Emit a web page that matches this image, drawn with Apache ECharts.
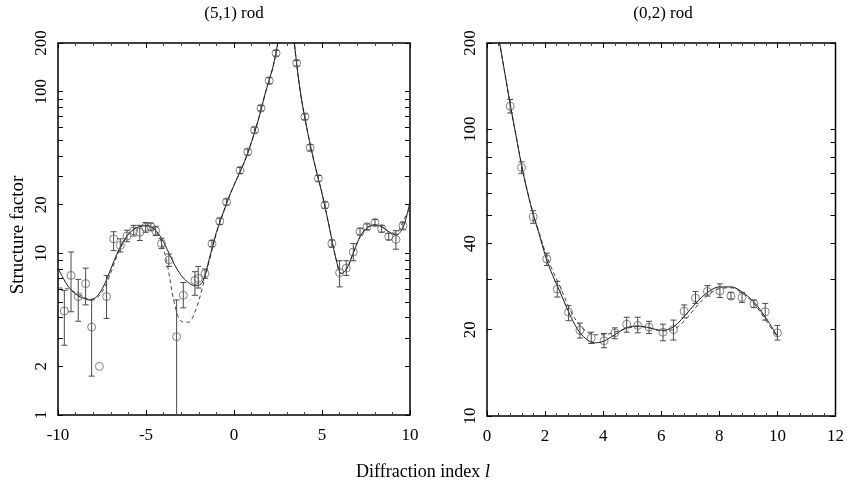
<!DOCTYPE html>
<html>
<head>
<meta charset="utf-8">
<script src="https://cdn.jsdelivr.net/npm/echarts@6/dist/echarts.min.js"></script>
<style>html,body{margin:0;padding:0;background:#fff}#c{width:847px;height:492px}</style>
</head>
<body>
<div id="c"></div>
<script>
// ---------- (5,1) rod : measured points ----------
const leftPtX = [-9.64,-9.26,-8.85,-8.43,-8.09,-7.65,-7.24,-6.84,-6.46,-6.08,-5.70,-5.35,-5.02,-4.72,-4.45,-4.12,-3.70,-3.26,-2.88,-2.22,-2.03,-1.65,-1.25,-0.81,-0.42,0.34,0.78,1.17,1.53,2.00,2.39,3.56,4.03,4.33,4.79,5.17,5.56,6.00,6.38,6.78,7.16,7.56,8.01,8.39,8.79,9.20,9.60];
const leftPtY = [4.4,7.3,5.4,6.5,3.5,2.0,5.4,12.3,11.2,12.8,13.8,13.5,14.5,14.6,13.8,11.5,9.1,3.05,5.5,6.8,7.0,7.5,11.5,15.8,20.8,32.6,42.4,57.9,79,117,173,150,70,45,29.1,19.9,11.5,7.6,8.1,10.2,13.6,14.6,15.5,14.2,12.7,12.2,14.8];
const leftPtLo = [2.7,4.35,3.8,4.8,1.74,2.0,3.96,10.4,10.2,11.8,12.8,12.0,13.5,13.8,12.9,10.7,8.3,1,4.6,5.5,6.1,7.0,11.0,15.1,19.9,31.2,40.6,55.5,76,112,166,144,67,43,27.9,19.0,10.9,6.2,7.3,9.0,13.0,14.0,14.8,13.5,12.1,10.6,14.0];
const leftPtHi = [5.9,10.2,6.9,8.1,5.15,2.0,7.3,13.6,12.3,13.9,14.9,14.9,15.5,15.4,14.7,12.4,9.9,5.15,6.6,7.7,8.3,8.0,12.0,16.5,21.7,34.0,44.2,60.3,82,122,180,156,73,47,30.3,20.8,12.1,9.0,9.0,11.5,14.3,15.2,16.2,14.9,13.3,13.8,15.6];
// ---------- (5,1) rod : fit curves ----------
const leftCurveX = [-10,-9.7,-9.4,-9.0,-8.6,-8.2,-7.8,-7.4,-7.0,-6.6,-6.2,-5.8,-5.4,-5.0,-4.6,-4.2,-3.8,-3.4,-3.0,-2.6,-2.2,-1.8,-1.4,-1.0,-0.6,-0.2,0.2,0.6,1.0,1.4,1.8,2.2,2.5,2.75,3.0,3.25,3.5,3.8,4.2,4.6,5.0,5.4,5.8,6.1,6.4,6.8,7.2,7.6,8.0,8.4,8.8,9.2,9.6,10];
const leftSolidY = [8.1,7.0,6.2,5.6,5.3,5.15,5.4,6.3,8.0,10.2,12.3,13.8,14.6,14.8,14.3,12.8,10.6,8.6,7.3,6.6,6.3,6.6,9.3,13.5,18.0,23.5,29.5,37,49,68,100,140,205,330,2000,330,170,95,55,35,23.5,14.8,9.2,7.5,8.0,10.2,12.9,14.5,15.0,14.6,13.6,13.0,14.4,21];
const leftDashY = [6.1,6.1,6.0,5.7,5.4,5.2,5.3,6.0,7.6,9.9,12.1,13.8,14.7,14.9,14.4,12.4,8.6,5.0,3.8,3.75,4.4,6.1,9.0,13.3,18.0,23.5,29.5,37,49,68,100,140,205,330,2000,330,170,95,55,35,23.5,14.8,9.2,7.5,8.0,10.2,12.9,14.5,15.0,14.6,13.6,13.3,15.8,19];
// ---------- (0,2) rod : measured points ----------
const rightPtX = [0.80,1.19,1.59,2.06,2.42,2.81,3.20,3.59,4.03,4.40,4.81,5.19,5.58,6.06,6.42,6.79,7.18,7.59,8.02,8.40,8.78,9.19,9.58,10.00];
const rightPtY = [120.5,73.5,49.5,35.3,27.7,23.0,19.9,18.7,18.3,19.5,20.9,20.7,20.4,19.6,20.0,23.2,25.8,27.2,27.3,26.2,25.9,24.6,23.1,19.5];
const rightPtLo = [114,70,47,33.5,26,21.5,18.7,17.9,17.3,18.6,19.6,19.5,19.4,18.3,18.4,22.0,24.7,26.2,25.9,25.6,24.9,23.9,21.6,18.4];
const rightPtHi = [127,77,52,37,29.5,24.3,21.1,19.6,19.4,20.3,22.1,22.1,21.4,20.9,21.6,24.4,27.2,28.5,28.9,27.0,27.0,25.4,24.7,20.7];
// ---------- (0,2) rod : fit curves ----------
const rightCurveX = [0.3,0.6,0.8,1.0,1.2,1.4,1.6,1.8,2.0,2.2,2.5,2.8,3.1,3.4,3.7,4.0,4.4,4.8,5.2,5.6,6.0,6.4,6.8,7.2,7.6,8.0,8.4,8.8,9.2,9.6,10.0];
const rightSolidY = [240,160,122,95,74,60,50,43,36.5,32,27.3,23.2,20.2,18.6,18.0,18.2,19.2,20.3,20.6,20.3,19.9,20.4,22.3,24.8,27.0,28.2,28.2,27.0,24.9,22.0,19.0];
const rightDashY = [240,160,122,95,74.5,60.5,50.5,43.5,37.5,33.2,28.5,24.2,21.3,19.8,19.2,19.2,19.6,20.2,20.5,20.3,19.8,20.0,21.5,24.0,26.4,27.8,28.0,26.8,24.6,21.6,18.8];
// ---------- ticks ----------
const leftXTicks = {min: -10, max: 10, interval: 5};
const rightXTicks = {min: 0, max: 12, interval: 2};
const leftYLabels = [1, 2, 10, 20, 100, 200];
const leftYTicks = [1,2,3,4,5,6,7,8,9,10,20,30,40,50,60,70,80,90,100,200];
const rightYLabels = [10, 20, 40, 100, 200];
const rightYTicks = [10,20,30,40,50,60,70,80,90,100,200];
const panelTitles = ['(5,1) rod', '(0,2) rod'];

const FONT = 'Liberation Serif';
const zip2 = (a, b) => a.map((v, i) => [v, b[i]]);
const zip4 = (a, b, c, d) => a.map((v, i) => [v, b[i], c[i], d[i]]);

function errRender(params, api) {
  const x = api.value(0), lo = api.value(2), hi = api.value(3);
  if (lo === hi) return null;
  const p1 = api.coord([x, lo]), p2 = api.coord([x, hi]);
  const w = 3;
  const st = {stroke: '#4a4a4a', lineWidth: 1};
  return {type: 'group', children: [
    {type: 'line', shape: {x1: p1[0], y1: p1[1], x2: p2[0], y2: p2[1]}, style: st},
    {type: 'line', shape: {x1: p1[0] - w, y1: p1[1], x2: p1[0] + w, y2: p1[1]}, style: st},
    {type: 'line', shape: {x1: p2[0] - w, y1: p2[1], x2: p2[0] + w, y2: p2[1]}, style: st}
  ]};
}

function xAxisPair(gi, t) {
  const base = {
    type: 'value', gridIndex: gi, min: t.min, max: t.max, interval: t.interval,
    splitLine: {show: false}, axisLine: {show: false, onZero: false},
    axisTick: {inside: true, length: 5, lineStyle: {color: '#000'}},
    minorTick: {show: true, splitNumber: 5, length: 3, lineStyle: {color: '#444'}},
  };
  return [
    Object.assign({}, base, {position: 'bottom',
      axisLabel: {margin: 12, color: '#000', fontFamily: FONT, fontSize: 17,
        showMinLabel: true, showMaxLabel: true}}),
    Object.assign({}, base, {position: 'top', axisLabel: {show: false}})
  ];
}
function yAxisPair(gi, min, max, labels, ticks) {
  const base = {
    type: 'log', logBase: 10, gridIndex: gi, min: min, max: max,
    splitLine: {show: false}, axisLine: {show: false, onZero: false},
    axisTick: {inside: true, length: 5, customValues: ticks, lineStyle: {color: '#000'}},
  };
  return [
    Object.assign({}, base, {position: 'left',
      axisLabel: {customValues: labels, rotate: 90, margin: 8, color: '#000',
        fontFamily: FONT, fontSize: 17}}),
    Object.assign({}, base, {position: 'right', axisLabel: {show: false}})
  ];
}

const grids = [
  {left: 58, top: 43, width: 352, height: 372},
  {left: 487, top: 43, width: 352, height: 373}
].map(g => Object.assign(g, {show: true, borderColor: '#000', borderWidth: 1.5, backgroundColor: 'transparent'}));

const xAxes = [...xAxisPair(0, leftXTicks), ...xAxisPair(1, rightXTicks)];
const yAxes = [...yAxisPair(0, 1, 200, leftYLabels, leftYTicks), ...yAxisPair(1, 10, 200, rightYLabels, rightYTicks)];

function panelSeries(xi, yi, px, py, plo, phi, cx, cs, cd) {
  return [
    {type: 'line', xAxisIndex: xi, yAxisIndex: yi, data: zip2(cx, cd), showSymbol: false,
      smooth: 0.35, clip: true, lineStyle: {color: '#444', width: 1, type: [4, 3]}, z: 2, silent: true},
    {type: 'line', xAxisIndex: xi, yAxisIndex: yi, data: zip2(cx, cs), showSymbol: false,
      smooth: 0.35, clip: true, lineStyle: {color: '#1a1a1a', width: 1}, z: 3, silent: true},
    {type: 'custom', xAxisIndex: xi, yAxisIndex: yi, data: zip4(px, py, plo, phi),
      encode: {x: 0, y: 1}, renderItem: errRender, clip: true, z: 4, silent: true},
    {type: 'scatter', xAxisIndex: xi, yAxisIndex: yi, data: zip2(px, py), symbol: 'circle',
      symbolSize: 8, itemStyle: {color: 'rgba(255,255,255,0)', borderColor: '#555', borderWidth: 0.9}, z: 5, silent: true}
  ];
}

const chart = echarts.init(document.getElementById('c'), null, {renderer: 'canvas'});
chart.setOption({
  animation: false,
  backgroundColor: '#fff',
  grid: grids,
  xAxis: xAxes,
  yAxis: yAxes,
  series: [
    ...panelSeries(0, 0, leftPtX, leftPtY, leftPtLo, leftPtHi, leftCurveX, leftSolidY, leftDashY),
    ...panelSeries(2, 2, rightPtX, rightPtY, rightPtLo, rightPtHi, rightCurveX, rightSolidY, rightDashY)
  ],
  graphic: [
    {type: 'text', x: 234, y: 14, style: {text: panelTitles[0], font: '17px "Liberation Serif"', fill: '#000', textAlign: 'center', textVerticalAlign: 'middle'}},
    {type: 'text', x: 663, y: 14, style: {text: panelTitles[1], font: '17px "Liberation Serif"', fill: '#000', textAlign: 'center', textVerticalAlign: 'middle'}},
    {type: 'text', x: 18, y: 235, rotation: Math.PI / 2, style: {text: 'Structure factor', font: '19px "Liberation Serif"', fill: '#000', textAlign: 'center', textVerticalAlign: 'middle'}},
    {type: 'text', x: 423, y: 472, style: {
      text: '{a|Diffraction index }{b|l}', textAlign: 'center', textVerticalAlign: 'middle',
      rich: {a: {fontFamily: FONT, fontSize: 18, fill: '#000'}, b: {fontFamily: FONT, fontSize: 19, fontStyle: 'italic', fill: '#000'}}}}
  ]
});
</script>
</body>
</html>
